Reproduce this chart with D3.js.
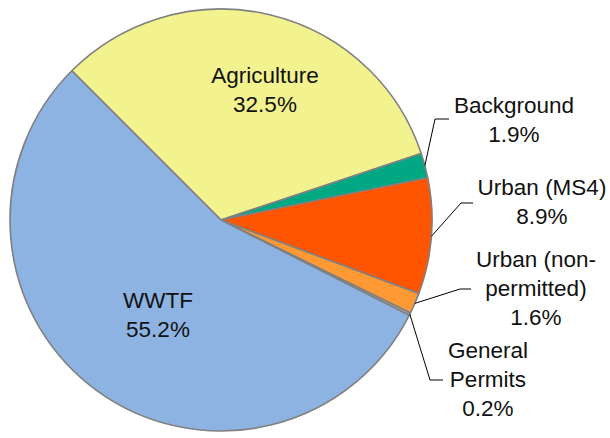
<!DOCTYPE html>
<html>
<head>
<meta charset="utf-8">
<script src="https://cdn.jsdelivr.net/npm/d3@7"></script>
<style>
  html, body { margin: 0; padding: 0; background: #fff; }
  svg { display: block; }
  text { font-family: "Liberation Sans", Arial, sans-serif; font-size: 22.5px; fill: #111; }
</style>
</head>
<body>
<svg id="chart" width="610" height="438"></svg>
<script>
// ---- data ----
const categories = ["Agriculture", "Background", "Urban (MS4)", "Urban (non-permitted)", "General Permits", "WWTF"];
const shares = [32.5, 1.9, 8.9, 1.6, 0.2, 55.2];
const labelLines = [["Agriculture"], ["Background"], ["Urban (MS4)"], ["Urban (non-", "permitted)"], ["General", "Permits"], ["WWTF"]];
const colors = ["#F2F28E", "#00A884", "#FF5500", "#FF9933", "#A0A0A0", "#8DB3E2"];

// ---- layout ----
const W = 610, H = 438;
const cx = 221, cy = 220, R = 211;
const lineH = 29;
const labelPos = [
  { x: 265, y: 83, inside: true },
  { x: 514, y: 113, elbow: [435, 119], start: [449, 119] },
  { x: 542, y: 195, elbow: [461, 203], start: [473, 203] },
  { x: 536, y: 267, elbow: [460, 289], start: [471, 289] },
  { x: 488, y: 358, elbow: [430, 380], start: [443, 380] },
  { x: 158, y: 308, inside: true }
];

const svg = d3.select("#chart");
const g = svg.append("g").attr("transform", `translate(${cx},${cy})`);

const startA = -Math.PI / 4;
const pie = d3.pie().sort(null).value(d => d)
  .startAngle(startA).endAngle(startA + 2 * Math.PI);
const arcs = pie(shares);
const arc = d3.arc().innerRadius(0).outerRadius(R);

g.selectAll("path.slice").data(arcs).enter().append("path")
  .attr("class", "slice")
  .attr("d", arc)
  .attr("fill", (d, i) => colors[i])
  .attr("stroke", "#808080")
  .attr("stroke-width", 1.6)
  .attr("stroke-linejoin", "round");

// leader lines
arcs.forEach((d, i) => {
  const p = labelPos[i];
  if (p.inside) return;
  const mid = (d.startAngle + d.endAngle) / 2;
  const ex = cx + R * Math.sin(mid), ey = cy - R * Math.cos(mid);
  svg.append("polyline")
    .attr("points", [p.start, p.elbow, [ex, ey]].map(q => q.join(",")).join(" "))
    .attr("fill", "none")
    .attr("stroke", "#000")
    .attr("stroke-width", 1);
});

// labels
arcs.forEach((d, i) => {
  const p = labelPos[i];
  const lines = labelLines[i].concat([d3.format(".1f")(shares[i]) + "%"]);
  const t = svg.append("text").attr("text-anchor", "middle");
  lines.forEach((s, k) => {
    t.append("tspan").attr("x", p.x).attr("y", p.y + k * lineH).text(s);
  });
});
</script>
</body>
</html>
